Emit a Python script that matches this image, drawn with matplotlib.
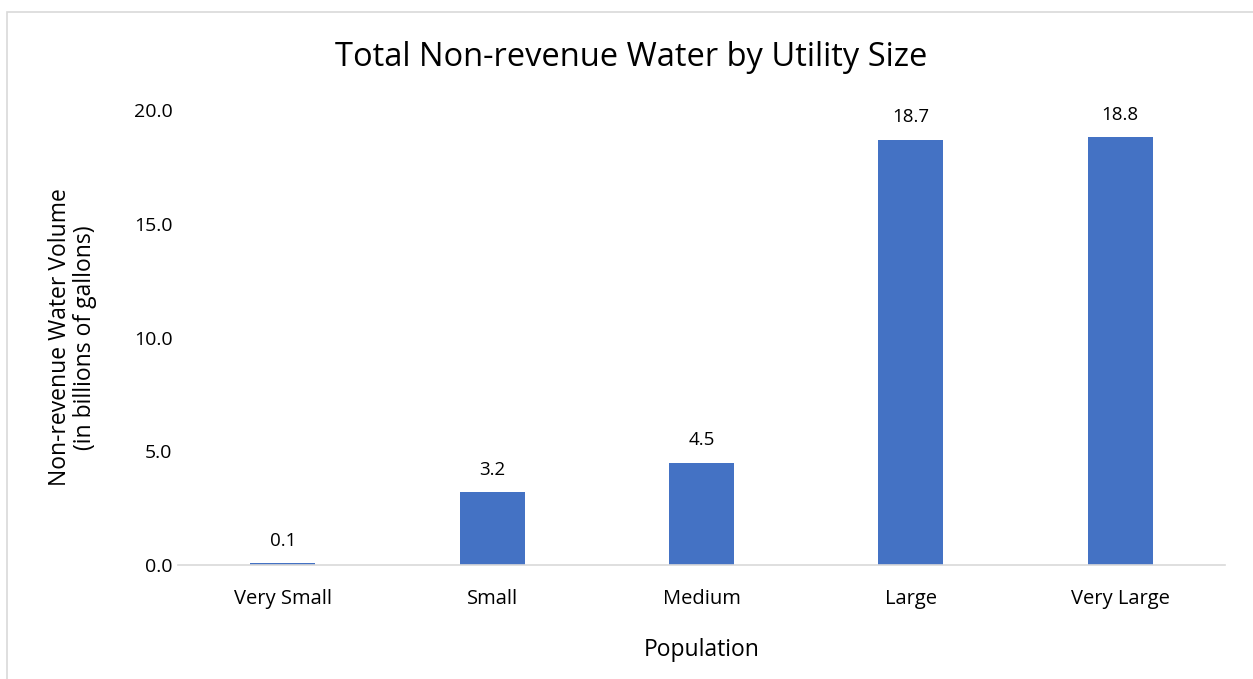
import matplotlib
matplotlib.use("Agg")
import matplotlib.pyplot as plt
from matplotlib.patches import Rectangle

plt.rcParams["font.family"] = ["Open Sans", "DejaVu Sans"]

categories = ["Very Small", "Small", "Medium", "Large", "Very Large"]
values = [0.1, 3.2, 4.5, 18.7, 18.8]
y_ticks = [0.0, 5.0, 10.0, 15.0, 20.0]

W, H = 1253, 679
fig = plt.figure(figsize=(W / 100, H / 100), dpi=100, facecolor="white")

# outer chart border (right/bottom fall outside the picture)
fig.patches.append(Rectangle((6.5 / W, -0.1), 1.2, (H - 11.5) / H + 0.1,
                             transform=fig.transFigure, fill=False,
                             edgecolor="#d9d9d9", lw=1.2))

ax = fig.add_axes([178 / W, (H - 565) / H, (1225 - 178) / W, (565 - 110) / H])
x = range(len(categories))
bars = ax.bar(x, values, width=0.31, color="#4472c4")

for xi, v in zip(x, values):
    ax.annotate(f"{v:.1f}", (xi, v), xytext=(0, 9.5), textcoords="offset points",
                ha="center", va="bottom", fontsize=13.5, color="#000000")

ax.set_xlim(-0.5, len(categories) - 0.5)
ax.set_ylim(0, 20)
ax.set_yticks(y_ticks)
ax.set_yticklabels([f"{t:.1f}" for t in y_ticks], fontsize=14)
ax.set_xticks(list(x))
ax.set_xticklabels(categories, fontsize=14.5)
ax.tick_params(axis="x", length=0, pad=17)
ax.tick_params(axis="y", length=0, pad=4)

for s in ["top", "right", "left"]:
    ax.spines[s].set_visible(False)
ax.spines["bottom"].set_color("#d9d9d9")
ax.spines["bottom"].set_linewidth(1.2)

ax.set_xlabel("Population", fontsize=16.5, labelpad=21)
ax.set_ylabel("Non-revenue Water Volume\n(in billions of gallons)", fontsize=16.5,
              linespacing=1.05)
ax.yaxis.set_label_coords((97 - 178) / 1047, 0.5)

fig.text(631 / W, 1 - 57 / H, "Total Non-revenue Water by Utility Size",
         ha="center", va="center", fontsize=23.5)

fig.savefig("out.png", dpi=100, facecolor="white")
